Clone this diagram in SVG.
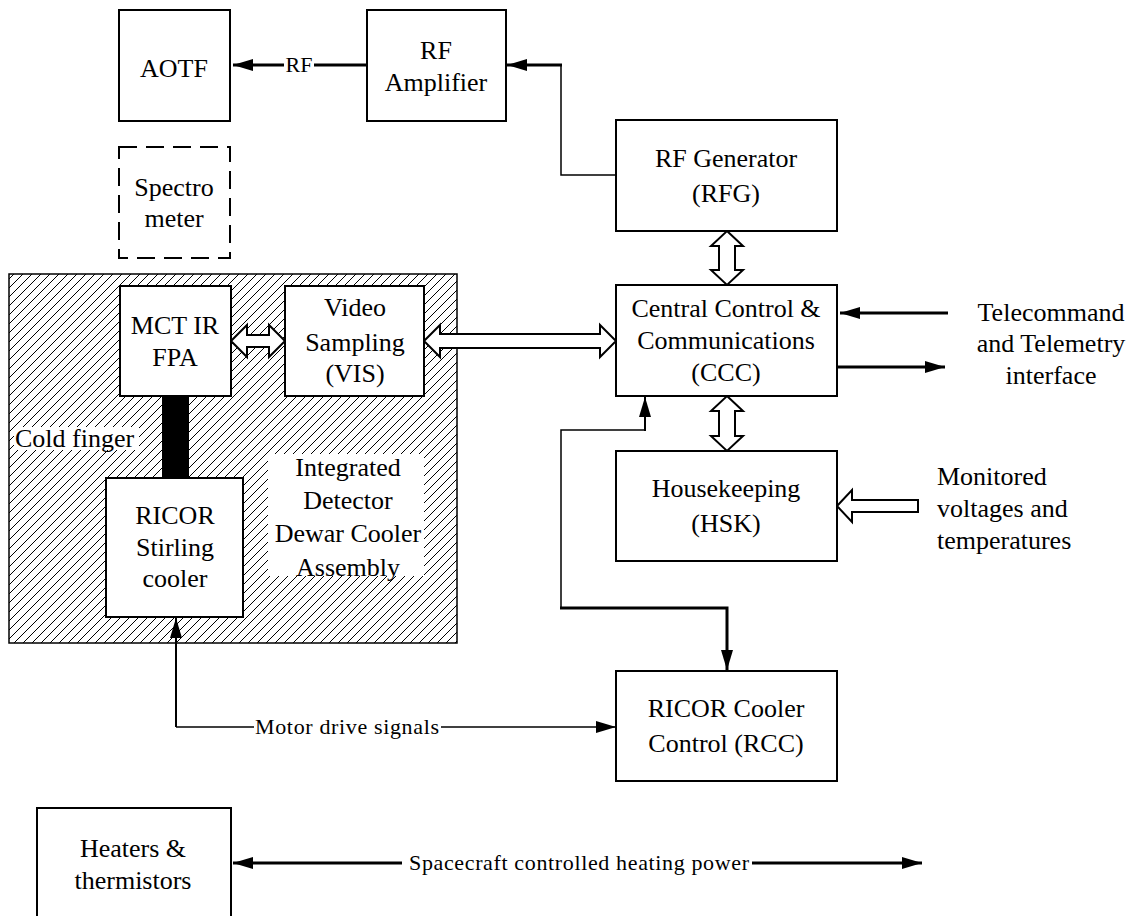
<svg xmlns="http://www.w3.org/2000/svg" width="1134" height="916" viewBox="0 0 1134 916" font-family="'Liberation Serif', 'Times New Roman', serif">
<defs>
<style>
.t{font-size:26px;text-anchor:middle}
.tl{font-size:26px}
.lbl{font-size:22px;text-anchor:middle}
.box{fill:#fff;stroke:#000;stroke-width:2}
.hol{fill:#fff;stroke:#000;stroke-width:2;stroke-linejoin:miter}
.thin{fill:none;stroke:#000;stroke-width:1.5}
.mid{fill:none;stroke:#000;stroke-width:2}
.thick{fill:none;stroke:#000;stroke-width:3}
</style>
<marker id="ah" markerUnits="userSpaceOnUse" viewBox="0 0 20 12" markerWidth="20" markerHeight="12" refX="20" refY="6" orient="auto-start-reverse">
<path d="M0,0 L20,6 L0,12 Z" fill="#000"/>
</marker>
<pattern id="hatch" patternUnits="userSpaceOnUse" width="9" height="9">
<path d="M0,9 L9,0 M-1,1 L1,-1 M8,10 L10,8" stroke="#000" stroke-width="1"/>
</pattern>
</defs>

<g id="idda">
<rect x="9" y="274" width="448" height="369" fill="#fff"/>
<rect x="9" y="274" width="448" height="369" fill="url(#hatch)" stroke="#000" stroke-width="1.5"/>
<rect x="268" y="454" width="156" height="122" fill="#fff"/>
<text class="t" x="348" y="476">Integrated</text>
<text class="t" x="348" y="509">Detector</text>
<text class="t" x="348" y="542">Dewar Cooler</text>
<text class="t" x="348" y="576">Assembly</text>
<rect x="14" y="427" width="125" height="23" fill="#fff"/>
<text class="tl" x="15" y="447">Cold finger</text>
</g>

<g id="connectors">
<path class="thick" d="M367,65 H314"/>
<path class="thick" d="M284,65 H233" marker-end="url(#ah)"/>
<text class="lbl" x="299" y="72">RF</text>
<path class="thin" d="M616,175 H561 V65"/>
<path class="thick" d="M562,65 H507" marker-end="url(#ah)"/>
<path class="thick" d="M948,313 H840" marker-end="url(#ah)"/>
<path class="thick" d="M837,367 H945" marker-end="url(#ah)"/>
<path class="mid" d="M645,431 V397" marker-end="url(#ah)"/>
<path class="thin" d="M645,430 H561 V608"/>
<path class="thick" d="M560,608 H727 V670" marker-end="url(#ah)"/>
<path class="mid" d="M176,618 V727" marker-start="url(#ah)"/>
<path class="thin" d="M176,727 H254"/>
<path class="thin" d="M441,727 H616" marker-end="url(#ah)"/>
<text class="lbl" x="347" y="734" textLength="184" lengthAdjust="spacing">Motor drive signals</text>
<path class="thick" d="M402,863 H233" marker-end="url(#ah)"/>
<path class="thick" d="M752,863 H922" marker-end="url(#ah)"/>
<text class="lbl" x="579" y="870" textLength="340" lengthAdjust="spacing">Spacecraft controlled heating power</text>
<polygon class="hol" points="231,341 247,325 247,335 269,335 269,325 285,341 269,357 269,347 247,347 247,357"/>
<polygon class="hol" points="424,341 440,325 440,334 600,334 600,325 616,341 600,357 600,348 440,348 440,357"/>
<polygon class="hol" points="727,231 743,246 735,246 735,270 743,270 727,285 711,270 719,270 719,246 711,246"/>
<polygon class="hol" points="727,396 743,411 735,411 735,436 743,436 727,451 711,436 719,436 719,411 711,411"/>
<polygon class="hol" points="837,506 852,490 852,500 918,500 918,512 852,512 852,522"/>
</g>

<g id="aotf">
<rect class="box" x="119" y="10" width="111" height="111"/>
<text class="t" x="174" y="77">AOTF</text>
</g>
<g id="rf-amplifier">
<rect class="box" x="367" y="10" width="139" height="111"/>
<text class="t" x="436" y="59">RF</text>
<text class="t" x="436" y="91">Amplifier</text>
</g>
<g id="spectrometer">
<rect x="119" y="147" width="111" height="111" fill="#fff" stroke="#000" stroke-width="2" stroke-dasharray="18 9"/>
<text class="t" x="174" y="196">Spectro</text>
<text class="t" x="174" y="227">meter</text>
</g>
<g id="rfg">
<rect class="box" x="616" y="120" width="221" height="111"/>
<text class="t" x="726" y="167">RF Generator</text>
<text class="t" x="726" y="202">(RFG)</text>
</g>
<g id="ccc">
<rect class="box" x="616" y="285" width="221" height="111"/>
<text class="t" x="726" y="317">Central Control &amp;</text>
<text class="t" x="726" y="349">Communications</text>
<text class="t" x="726" y="381">(CCC)</text>
</g>
<g id="hsk">
<rect class="box" x="616" y="451" width="221" height="110"/>
<text class="t" x="726" y="497">Housekeeping</text>
<text class="t" x="726" y="532">(HSK)</text>
</g>
<g id="rcc">
<rect class="box" x="616" y="671" width="221" height="110"/>
<text class="t" x="726" y="717">RICOR Cooler</text>
<text class="t" x="726" y="752">Control (RCC)</text>
</g>
<g id="mct">
<rect class="box" x="120" y="286" width="111" height="110"/>
<text class="t" x="175" y="334">MCT IR</text>
<text class="t" x="175" y="366">FPA</text>
</g>
<g id="vis">
<rect class="box" x="285" y="286" width="139" height="110"/>
<text class="t" x="355" y="316">Video</text>
<text class="t" x="355" y="351">Sampling</text>
<text class="t" x="355" y="382">(VIS)</text>
</g>
<g id="cold-finger">
<rect x="162" y="396" width="27" height="82" fill="#000"/>
</g>
<g id="stirling">
<rect class="box" x="106" y="478" width="137" height="139"/>
<text class="t" x="175" y="524">RICOR</text>
<text class="t" x="175" y="556">Stirling</text>
<text class="t" x="175" y="587">cooler</text>
</g>
<g id="heaters">
<rect class="box" x="37" y="808" width="194" height="130"/>
<text class="t" x="133" y="857">Heaters &amp;</text>
<text class="t" x="133" y="889">thermistors</text>
</g>
<g id="tc-tm">
<text class="t" x="1051" y="321">Telecommand</text>
<text class="t" x="1051" y="352">and Telemetry</text>
<text class="t" x="1051" y="384">interface</text>
</g>
<g id="monitored">
<text class="tl" x="937" y="485">Monitored</text>
<text class="tl" x="937" y="517">voltages and</text>
<text class="tl" x="937" y="549">temperatures</text>
</g>
</svg>
